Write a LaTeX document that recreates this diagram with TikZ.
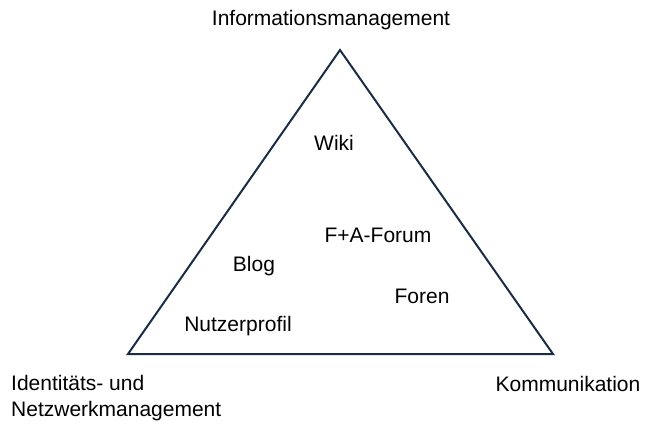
\documentclass[tikz,border=0pt]{standalone}
\usepackage{fontspec}
\setmainfont{Liberation Sans}
\definecolor{navy}{HTML}{1B2D45}
\begin{document}
\begin{tikzpicture}[x=1pt,y=-1pt,
  lbl/.style={font=\fontsize{21}{26}\selectfont, inner sep=0pt, text=black},
  tri/.style={draw=navy, line width=2pt, line join=miter}]
\useasboundingbox (0,0) rectangle (645,424);
\coordinate (T) at (340,50);
\coordinate (L) at (128,354);
\coordinate (R) at (553,354);
\draw[tri] (T) -- (L) -- (R) -- cycle;
\node[lbl] (info) at (331,20) {Informationsmanagement};
\node[lbl] (komm) at (568,384) {Kommunikation};
\node[lbl, anchor=west, align=left] (ident) at (11,398) {Identitäts- und\\Netzwerkmanagement};
\node[lbl] (wiki) at (334,143) {Wiki};
\node[lbl] (faf) at (378,235) {F+A-Forum};
\node[lbl] (blog) at (254,266) {Blog};
\node[lbl] (foren) at (422,296) {Foren};
\node[lbl] (nutz) at (238,326) {Nutzerprofil};
\end{tikzpicture}
\end{document}
